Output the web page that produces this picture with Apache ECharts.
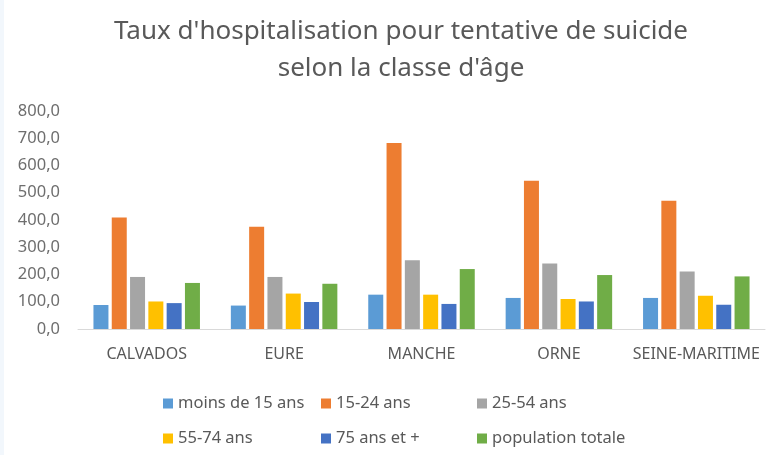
<!DOCTYPE html>
<html><head><meta charset="utf-8">
<script src="https://cdn.jsdelivr.net/npm/echarts@6/dist/echarts.min.js"></script>
<style>html,body{margin:0;padding:0;background:#fff}#c{width:777px;height:455px}</style>
</head><body><div id="c"></div>
<script>
const categories = ['CALVADOS', 'EURE', 'MANCHE', 'ORNE', 'SEINE-MARITIME'];
const seriesNames = ['moins de 15 ans', '15-24 ans', '25-54 ans', '55-74 ans', '75 ans et +', 'population totale'];
const moins15 = [88, 86, 126, 114, 114];
const a15_24 = [409, 375, 683, 544, 471];
const a25_54 = [191, 191, 252, 240, 211];
const a55_74 = [101, 130, 126, 110, 122];
const a75plus = [95, 99, 92, 101, 89];
const popTotale = [169, 166, 220, 198, 193];
const values = [moins15, a15_24, a25_54, a55_74, a75plus, popTotale];
const colors = ['#5B9BD5', '#ED7D31', '#A5A5A5', '#FFC000', '#4472C4', '#70AD47'];

const chart = echarts.init(document.getElementById('c'));
const font = 'Noto Sans';
const legendCommon = {
  orient: 'vertical', itemWidth: 10, itemHeight: 10, itemGap: 18, icon: 'rect',
  textStyle: { fontFamily: font, fontSize: 16.5, color: '#595959' }
};
chart.setOption({
  backgroundColor: '#fff',
  animation: false,
  graphic: [{ type: 'rect', left: 0, top: 0, shape: { width: 4, height: 455 }, style: { fill: '#F2F7FC' }, silent: true }],
  title: {
    text: "Taux d'hospitalisation pour tentative de suicide\nselon la classe d'âge",
    left: 396, textAlign: 'center', top: 8,
    textStyle: { fontFamily: font, fontSize: 26, fontWeight: 'normal', color: '#595959', lineHeight: 37 }
  },
  legend: [
    Object.assign({ left: 158, top: 390, data: [seriesNames[0], seriesNames[3]] }, legendCommon),
    Object.assign({ left: 316, top: 390, data: [seriesNames[1], seriesNames[4]] }, legendCommon),
    Object.assign({ left: 472, top: 390, data: [seriesNames[2], seriesNames[5]] }, legendCommon)
  ],
  grid: { left: 78, right: 12, top: 111, bottom: 126, containLabel: false },
  xAxis: {
    type: 'category', data: categories,
    axisLine: { lineStyle: { color: '#D9D9D9', width: 1 } },
    axisTick: { show: false },
    axisLabel: { fontFamily: font, fontSize: 16, color: '#595959', margin: 17, interval: 0 }
  },
  yAxis: {
    type: 'value', min: 0, max: 800, interval: 100,
    axisLine: { show: false }, axisTick: { show: false },
    splitLine: { show: false },
    axisLabel: { fontFamily: font, fontSize: 16.5, color: '#6E6E6E', margin: 18,
      formatter: v => v.toFixed(1).replace('.', ',') }
  },
  series: seriesNames.map((n, i) => ({
    name: n, type: 'bar', data: values[i], barWidth: 15, barGap: '22%',
    itemStyle: { color: colors[i] }
  }))
});
</script></body></html>
